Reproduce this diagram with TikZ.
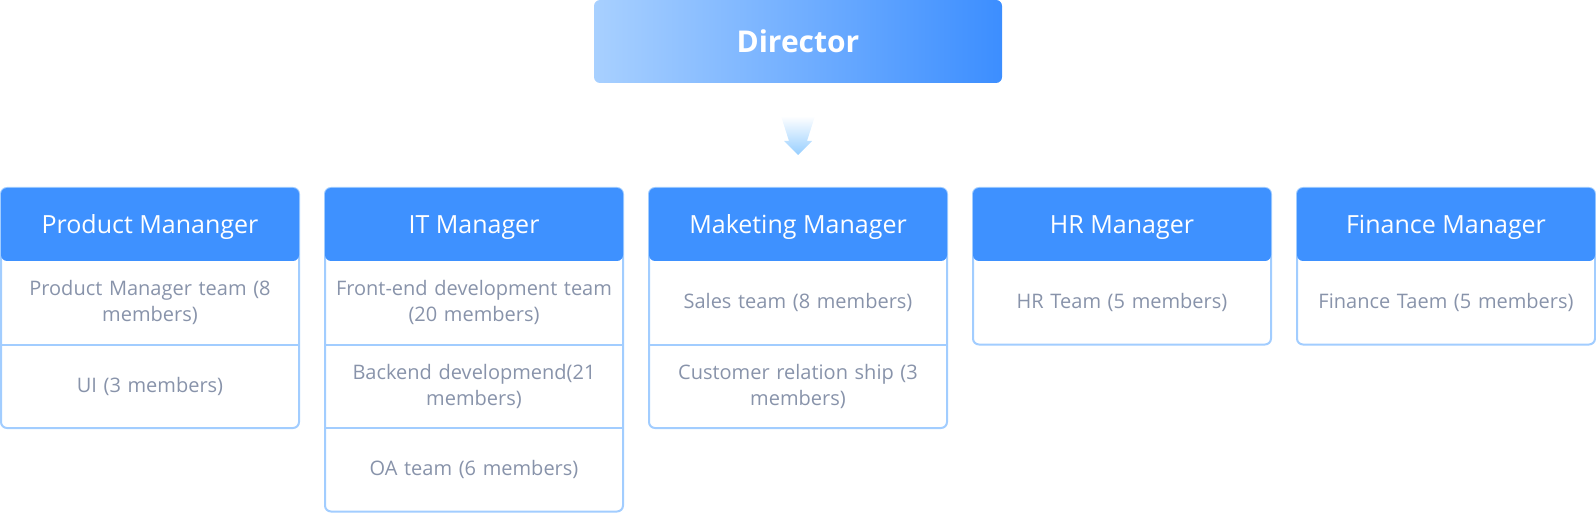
\documentclass[tikz,border=0pt]{standalone}
\usepackage{fontspec}
\setmainfont{Open Sans}
\usetikzlibrary{positioning,backgrounds}
\definecolor{headblue}{RGB}{62,145,255}
\definecolor{bossleft}{RGB}{168,208,255}
\definecolor{bossright}{RGB}{60,142,255}
\definecolor{frameblue}{RGB}{162,205,255}
\definecolor{arrowblue}{RGB}{150,206,255}
\definecolor{teamgray}{RGB}{136,147,170}
\tikzset{every node/.style={outer sep=0pt, inner sep=0pt},
  boss/.style={rectangle, rounded corners=6pt, left color=bossleft, right color=bossright,
    minimum width=408pt, minimum height=83pt, text=white, font=\fontsize{30}{36}\selectfont\bfseries},
  head/.style={rectangle, rounded corners=6pt, fill=headblue, minimum width=298pt,
    minimum height=73pt, text height=24pt, text depth=6pt, text=white,
    font=\fontsize{25}{30}\selectfont},
  team/.style={rectangle, text width=284pt, inner xsep=7pt, minimum height=83.5pt,
    align=center, text=teamgray, font=\fontsize{20}{26}\selectfont},
  frame/.style={draw=frameblue, line width=2pt, rounded corners=6pt},
  sep/.style={draw=frameblue, line width=2pt}}

\begin{document}
\begin{tikzpicture}[x=1pt, y=-1pt]
   \useasboundingbox (0,0) rectangle (1596,513);
   \node[boss] (dir) at (798,41.5) {Director};
   \shade[top color=white, bottom color=arrowblue, shift={(dir.south)}]
     (-17,33) .. controls (-13,46) .. (-9,58) -- (-14,58) -- (0,72) -- (14,58) -- (9,58)
     .. controls (13,46) .. (17,33) -- cycle;
   \begin{scope}
    \node[head] (pm) at (150,224.5) {Product Mananger};
    \node[team, below=0pt of pm] (pm1) {Product Manager team (8\\members)};
    \node[team, below=0pt of pm1] (pm2) {UI (3 members)};
    \begin{scope}[on background layer]
     \draw[frame] (pm.north west) rectangle (pm2.south east);
     \draw[sep] (pm1.south west) -- (pm1.south east);
    \end{scope}
   \end{scope}
   \begin{scope}[xshift=324pt]
    \node[head] (it) at (150,224.5) {IT Manager};
    \node[team, below=0pt of it] (it1) {Front-end development team\\(20 members)};
    \node[team, below=0pt of it1] (it2) {Backend developmend(21\\members)};
    \node[team, below=0pt of it2] (it3) {OA team (6 members)};
    \begin{scope}[on background layer]
     \draw[frame] (it.north west) rectangle (it3.south east);
     \draw[sep] (it1.south west) -- (it1.south east);
     \draw[sep] (it2.south west) -- (it2.south east);
    \end{scope}
   \end{scope}
   \begin{scope}[xshift=648pt]
    \node[head] (mk) at (150,224.5) {Maketing Manager};
    \node[team, below=0pt of mk] (mk1) {Sales team (8 members)};
    \node[team, below=0pt of mk1] (mk2) {Customer relation ship (3\\members)};
    \begin{scope}[on background layer]
     \draw[frame] (mk.north west) rectangle (mk2.south east);
     \draw[sep] (mk1.south west) -- (mk1.south east);
    \end{scope}
   \end{scope}
   \begin{scope}[xshift=972pt]
    \node[head] (hr) at (150,224.5) {HR Manager};
    \node[team, below=0pt of hr] (hr1) {HR Team (5 members)};
    \begin{scope}[on background layer]
     \draw[frame] (hr.north west) rectangle (hr1.south east);
    \end{scope}
   \end{scope}
   \begin{scope}[xshift=1296pt]
    \node[head] (fi) at (150,224.5) {Finance Manager};
    \node[team, below=0pt of fi] (fi1) {Finance Taem (5 members)};
    \begin{scope}[on background layer]
     \draw[frame] (fi.north west) rectangle (fi1.south east);
    \end{scope}
   \end{scope}
\end{tikzpicture}
\end{document}
